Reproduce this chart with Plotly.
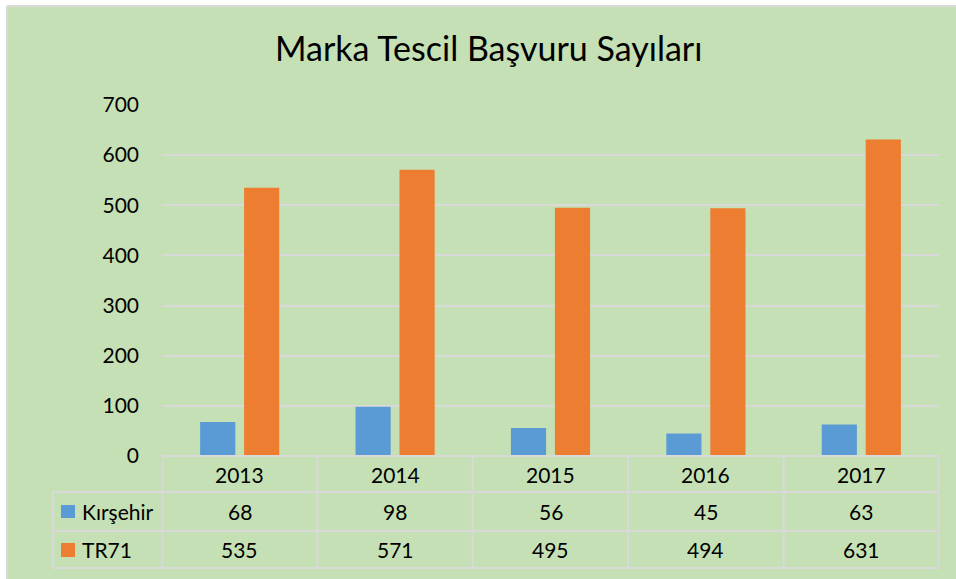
import plotly.graph_objects as go

years = ["2013", "2014", "2015", "2016", "2017"]
kirsehir = [68, 98, 56, 45, 63]
tr71 = [535, 571, 495, 494, 631]
series_names = ["Kırşehir", "TR71"]
colors = ["#5B9BD5", "#ED7D31"]
title_text = "Marka Tescil Başvuru Sayıları"

W, H = 956, 579
L, R, T, B = 162, 939, 105, 456
PW, PH = R - L, B - T
GREEN = "#C5E0B4"
GRID = "#D9D9D9"
FONT = "Lato"


def px(xp):
    return (xp - L) / PW


def py(yp):
    return (B - yp) / PH


fig = go.Figure()
for name, vals, c in zip(series_names, [kirsehir, tr71], colors):
    fig.add_trace(go.Bar(x=years, y=vals, name=name, marker=dict(color=c, line=dict(width=0)),
                         hoverinfo="skip"))

shapes = []
# table lines
for yp, x0 in [(456, L), (492, 53), (531, 53), (568, 53)]:
    shapes.append(dict(type="line", xref="paper", yref="paper", x0=px(x0), x1=1,
                       y0=py(yp), y1=py(yp), line=dict(color=GRID, width=2)))
# vertical lines
shapes.append(dict(type="line", xref="paper", yref="paper", x0=px(53), x1=px(53),
                   y0=py(492), y1=py(568), line=dict(color=GRID, width=2)))
for i in range(len(years) + 1):
    xv = i - 0.5
    shapes.append(dict(type="line", xref="x", yref="paper", x0=xv, x1=xv,
                       y0=py(456), y1=py(568), line=dict(color=GRID, width=2)))
# legend keys
for c, (y0, y1) in zip(colors, [(505, 518), (543, 557)]):
    shapes.append(dict(type="rect", xref="paper", yref="paper", x0=px(61), x1=px(75),
                       y0=py(y1), y1=py(y0), line=dict(width=0), fillcolor=c))
# white outer strip and border (top/left)
shapes.append(dict(type="rect", xref="paper", yref="paper", x0=px(0), x1=px(W),
                   y0=py(6), y1=py(0), line=dict(width=0), fillcolor="white"))
shapes.append(dict(type="rect", xref="paper", yref="paper", x0=px(0), x1=px(7),
                   y0=py(H), y1=py(0), line=dict(width=0), fillcolor="white"))
shapes.append(dict(type="line", xref="paper", yref="paper", x0=px(7), x1=px(W),
                   y0=py(6), y1=py(6), line=dict(color=GRID, width=2)))
shapes.append(dict(type="line", xref="paper", yref="paper", x0=px(7), x1=px(7),
                   y0=py(6), y1=py(H), line=dict(color=GRID, width=2)))

ann = []
fs = 21
for i, yr in enumerate(years):
    ann.append(dict(x=i, y=py(474), xref="x", yref="paper", text=yr, showarrow=False,
                    font=dict(size=fs, color="black", family=FONT), xanchor="center", yanchor="middle"))
    ann.append(dict(x=i, y=py(511), xref="x", yref="paper", text=str(kirsehir[i]), showarrow=False,
                    font=dict(size=fs, color="black", family=FONT), xanchor="center", yanchor="middle"))
    ann.append(dict(x=i, y=py(549), xref="x", yref="paper", text=str(tr71[i]), showarrow=False,
                    font=dict(size=fs, color="black", family=FONT), xanchor="center", yanchor="middle"))
for name, yp in zip(series_names, [511, 549]):
    ann.append(dict(x=px(80), y=py(yp), xref="paper", yref="paper", text=name, showarrow=False,
                    font=dict(size=fs, color="black", family=FONT), xanchor="left", yanchor="middle"))
ann.append(dict(x=px(488), y=py(47), xref="paper", yref="paper", text=title_text, showarrow=False,
                font=dict(size=34, color="black", family=FONT), xanchor="center", yanchor="middle"))

fig.update_layout(
    width=W, height=H,
    margin=dict(l=L, r=W - R, t=T, b=H - B, pad=0),
    paper_bgcolor=GREEN, plot_bgcolor=GREEN,
    showlegend=False,
    barmode="group", bargap=0.434, bargroupgap=0.2,
    shapes=shapes, annotations=ann,
    font=dict(family=FONT, color="black"),
    xaxis=dict(type="category", range=[-0.5, 4.5], showticklabels=False, showgrid=False,
               zeroline=False, showline=False, ticks=""),
    yaxis=dict(range=[0, 700], dtick=100, showgrid=True, gridcolor=GRID, gridwidth=2,
               zeroline=False, showline=False, ticks="", ticklabelstandoff=22,
               tickfont=dict(size=fs, color="black", family=FONT)),
)

fig.write_html("out.html", config={"displayModeBar": False},
               post_script="document.body.style.margin='0';document.body.style.overflow='hidden';"
                           "document.body.style.background='" + GREEN + "';")
